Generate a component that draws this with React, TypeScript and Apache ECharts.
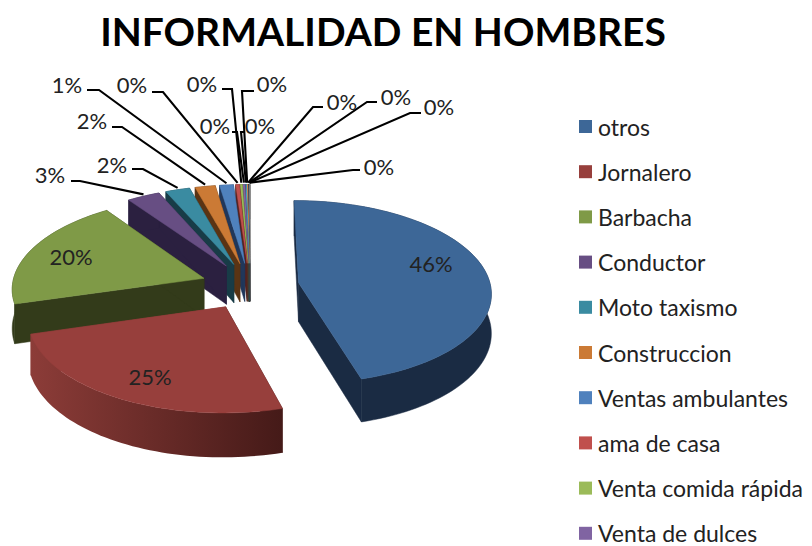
import React, { useEffect, useRef } from "react";
import * as echarts from "echarts";

// ---- data -------------------------------------------------------------
const titleText = "INFORMALIDAD EN HOMBRES";
const legendNames = ["otros", "Jornalero", "Barbacha", "Conductor", "Moto taxismo", "Construccion", "Ventas ambulantes", "ama de casa", "Venta comida rápida", "Venta de dulces"];
const hiddenNames = ["Categoria 11", "Categoria 12", "Categoria 13", "Categoria 14", "Categoria 15", "Categoria 16"];
const sliceValues = [45.6, 24.9, 19.8, 3.1, 2.3, 1.9, 1.3, 0.35, 0.2, 0.2, 0.1, 0.08, 0.06, 0.05, 0.04, 0.02];

// ---- styling ----------------------------------------------------------
const topColors = ["#3d6797", "#973f3c", "#7f9a47", "#674e83", "#3a8ba1", "#cb7a35", "#4f81bd", "#c0504d", "#9bbb59", "#8064a2", "#4bacc6", "#f79646", "#2c4d75", "#a5a5a5", "#b8b8b8", "#c9c9c9"];
const wallLeft = ["#1a2b43", "#8c3c38", "#333b1a", "#2b2040", "#183c47", "#5a3414", "#21375a", "#552220", "#44522a", "#372b47", "#205060", "#6e431f", "#13223a", "#4a4a4a", "#555555", "#5e5e5e"];
const wallRight = ["#1a2b43", "#451a18", "#333b1a", "#2b2040", "#183c47", "#5a3414", "#21375a", "#552220", "#44522a", "#372b47", "#205060", "#6e431f", "#13223a", "#4a4a4a", "#555555", "#5e5e5e"];

// label centre, elbow of the leader line (or none for labels on the slice)
const labelPos = [[431, 263], [150, 376], [71, 256], [50, 174], [112, 164], [92, 120], [67, 84], [132, 84], [202, 83], [215, 125], [260, 125], [272, 83], [342, 101], [396, 96], [439, 106], [379, 166]];
const leaderStart = [null, null, null, [71, 181], [132, 169], [112, 127], [87, 90], [152, 92], [222, 89], [232, 132], [245, 132], [254, 91], [323, 107], [377, 102], [421, 113], [360, 170]];
const leaderElbow = [null, null, null, [80, 181], [143, 169], [122, 127], [99, 90], [163, 92], [232, 89], [237, 132], [241, 132], [242, 91], [313, 107], [367, 102], [410, 113], [353, 170]];

const FONT = "Lato";
const CX = 250, CY = 286, A = 192, B = 91, K = 0.1, EXPLODE = 0.256, DEPTH = 39;

const total = sliceValues.reduce((s, v) => s + v, 0);
const angles: number[][] = [];
sliceValues.reduce((acc, v) => {
  const next = acc + (v / total) * Math.PI * 2;
  angles.push([acc, next]);
  return next;
}, 0);

function project(i: number, r: number, t: number, h: number) {
  const mid = (angles[i][0] + angles[i][1]) / 2;
  const X = EXPLODE * Math.sin(mid) + r * Math.sin(t);
  const Y = -EXPLODE * Math.cos(mid) - r * Math.cos(t);
  const s = 1 / (1 - K * Y);
  return [CX + A * X * s, CY + (B * Y + h) * s];
}

function renderSlice(i: number) {
  const [a0, a1] = angles[i];
  const steps = Math.max(2, Math.ceil((a1 - a0) / 0.03));
  const arc: number[] = [];
  for (let n = 0; n <= steps; n++) arc.push(a0 + ((a1 - a0) * n) / steps);
  const apexTop = project(i, 0, 0, 0);
  const apexBot = project(i, 0, 0, DEPTH);
  const top = arc.map((t) => project(i, 1, t, 0));
  const bot = arc.map((t) => project(i, 1, t, DEPTH));
  const wall = (fill: any, points: number[][]) => ({
    type: "polygon",
    silent: true,
    shape: { points },
    style: { fill, stroke: fill.colorStops ? undefined : fill, lineWidth: 0.5 },
  });
  const outerFill = wallLeft[i] === wallRight[i]
    ? wallLeft[i]
    : { type: "linear", x: 0, y: 0, x2: 1, y2: 0, colorStops: [{ offset: 0, color: wallLeft[i] }, { offset: 1, color: wallRight[i] }] };
  return {
    type: "group",
    children: [
      wall(wallRight[i], [apexTop, top[0], bot[0], apexBot]),
      wall(wallLeft[i], [apexTop, top[steps], bot[steps], apexBot]),
      wall(outerFill, [...top, ...bot.slice().reverse()]),
      wall(topColors[i], [apexTop, ...top]),
    ],
  };
}

function renderLabel(i: number) {
  const children: any[] = [];
  const start = leaderStart[i];
  const elbow = leaderElbow[i];
  if (start && elbow) {
    const mid = (angles[i][0] + angles[i][1]) / 2;
    const anchor = project(i, 1.0, mid, -2);
    children.push({
      type: "polyline",
      silent: true,
      shape: { points: [start, elbow, anchor] },
      style: { stroke: "#000", lineWidth: 2.1, fill: "none" },
    });
  }
  const p = labelPos[i];
  children.push({
    type: "text",
    silent: true,
    x: p[0],
    y: p[1],
    style: {
      text: Math.round((sliceValues[i] / total) * 100) + "%",
      fontFamily: FONT,
      fontSize: 22,
      fill: "#222",
      align: "center",
      verticalAlign: "middle",
    },
  });
  return { type: "group", children };
}

export default function App() {
  const ref = useRef<HTMLDivElement>(null);
  useEffect(() => {
    const chart = echarts.init(ref.current!, undefined, { renderer: "svg" });
    const names = [...legendNames, ...hiddenNames];
    chart.setOption({
      animation: false,
      backgroundColor: "#fff",
      title: {
        text: titleText,
        left: 378,
        top: 6,
        textAlign: "center",
        textStyle: { fontFamily: FONT, fontWeight: "bold", fontSize: 39, color: "#000" },
      },
      legend: {
        orient: "vertical",
        left: 579,
        top: 115,
        height: 600,
        padding: 0,
        data: legendNames,
        icon: "rect",
        itemWidth: 13,
        itemHeight: 13,
        itemGap: 22.2,
        selectedMode: false,
        textStyle: { fontFamily: FONT, fontSize: 23, color: "#222", padding: [0, 0, 0, 1], lineHeight: 21 },
      },
      series: [
        ...names.map((name, i) => ({
          type: "custom",
          name,
          coordinateSystem: "none",
          z: 40 - i,
          silent: true,
          itemStyle: { color: topColors[i] },
          data: [sliceValues[i]],
          renderItem: () => renderSlice(i),
        })),
        {
          type: "custom",
          name: "etiquetas",
          coordinateSystem: "none",
          z: 60,
          silent: true,
          data: sliceValues,
          renderItem: (params: any) => renderLabel(params.dataIndex),
        },
      ],
    });
    return () => chart.dispose();
  }, []);
  return <div ref={ref} style={{ position: "absolute", left: 0, top: 0, width: 812, height: 546 }} />;
}
